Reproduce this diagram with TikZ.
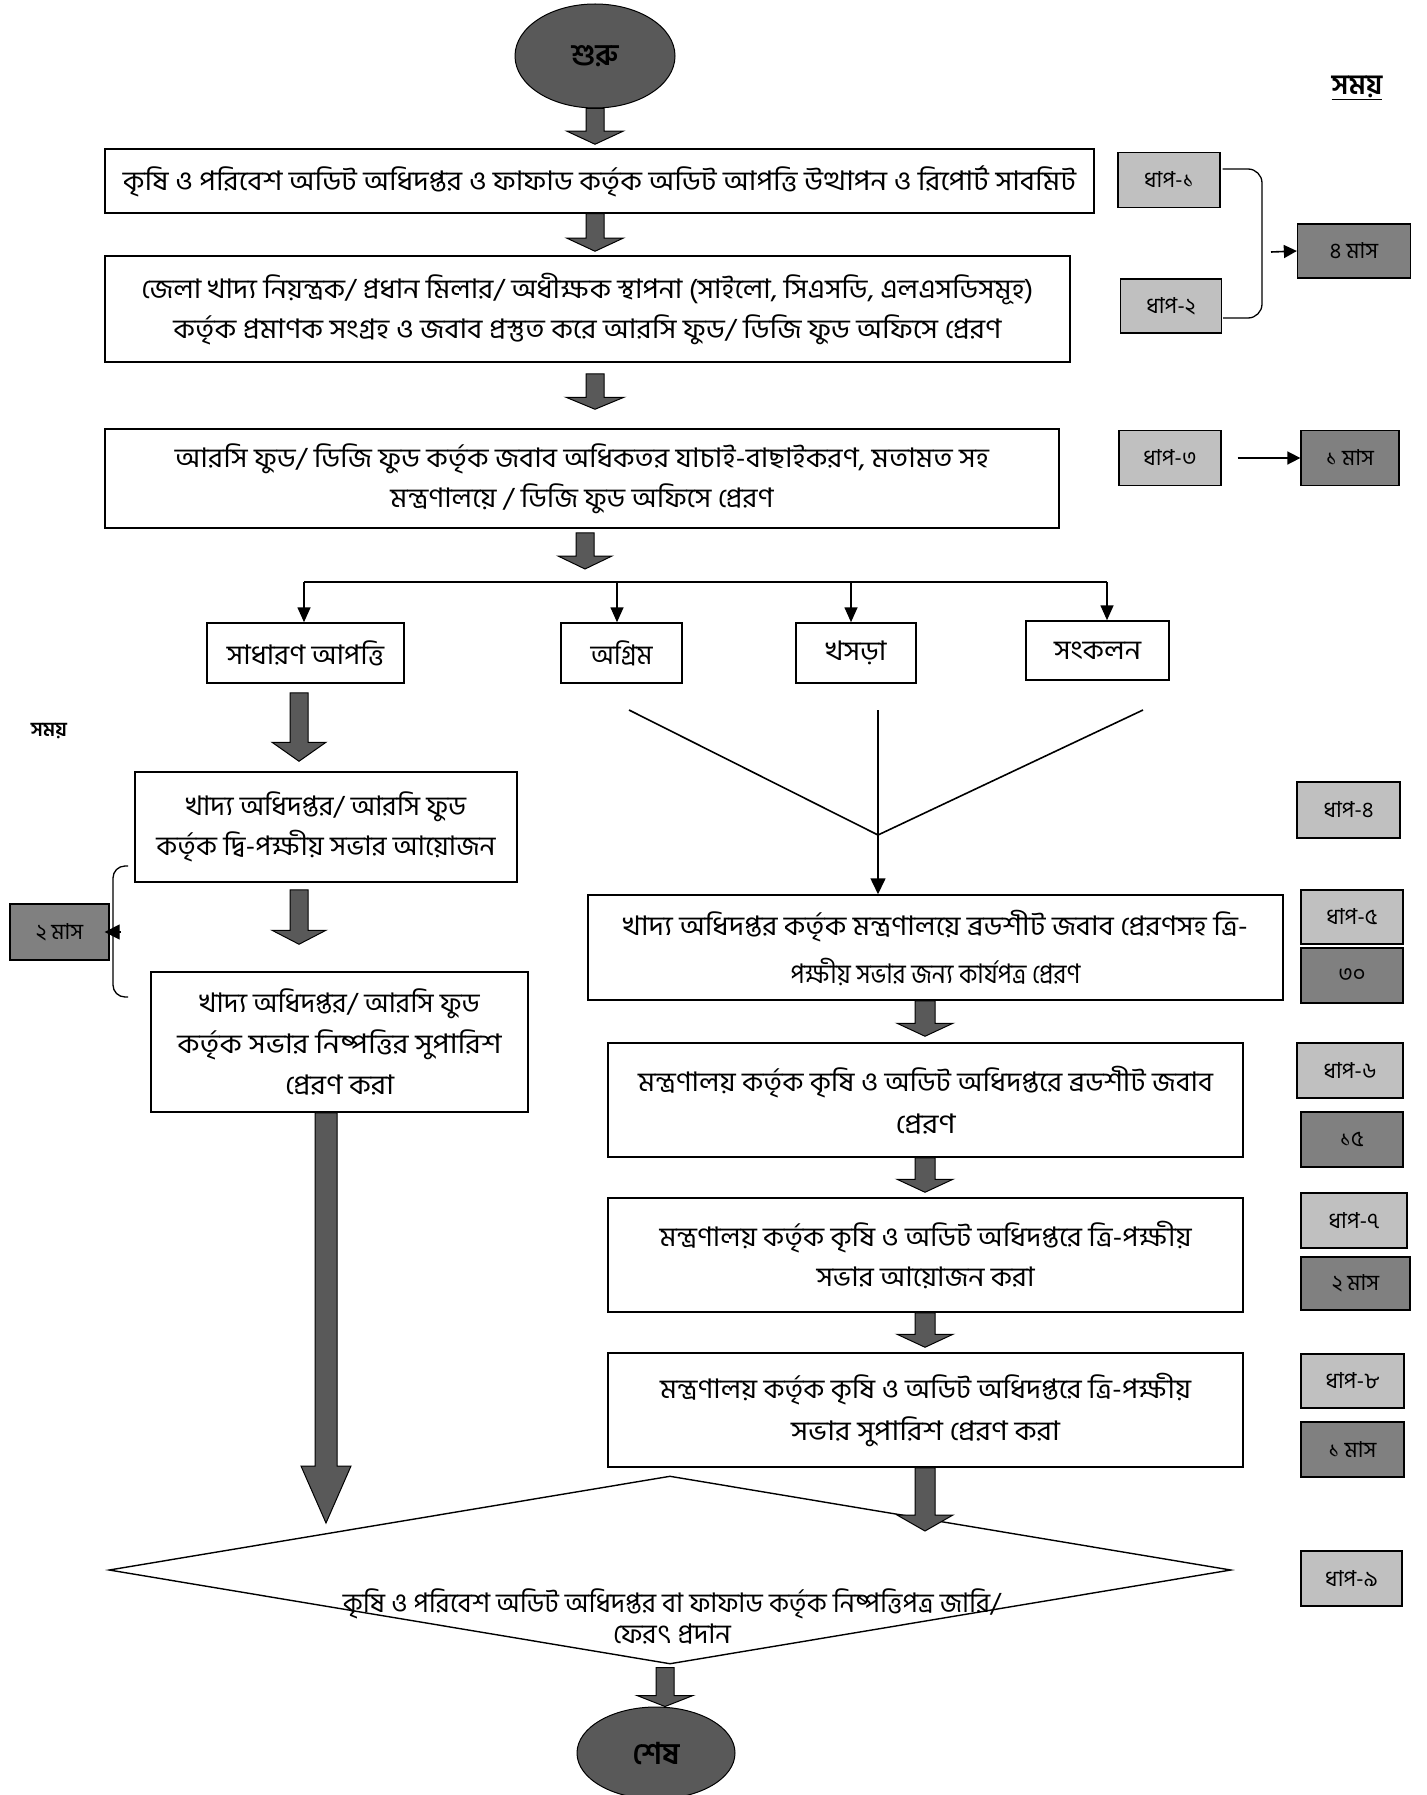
\documentclass[tikz,border=0pt]{standalone}
\usepackage{graphicx}
\usepackage{fontspec}
\setmainfont[Script=Bengali]{Hind Siliguri}
\usetikzlibrary{shapes.geometric,calc,arrows.meta}
\definecolor{dk}{HTML}{595959}
\definecolor{lg}{HTML}{C0C0C0}
\definecolor{mg}{HTML}{808080}
\newcommand\fitline[2]{\resizebox{#1pt}{\height}{#2}}
% block arrow: #1 from, #2 to, #3 x, #4 start gap, #5 end gap, #6 half shaft, #7 half head, #8 head length
\newcommand\barrow[8]{%
  \draw[barr] let \p1=(#1), \p2=(#2) in
    ({#3pt-#6pt},{\y1-#4pt}) -- ({#3pt+#6pt},{\y1-#4pt}) --
    ({#3pt+#6pt},{\y2+#5pt+#8pt}) -- ({#3pt+#7pt},{\y2+#5pt+#8pt}) --
    ({#3pt},{\y2+#5pt}) -- ({#3pt-#7pt},{\y2+#5pt+#8pt}) --
    ({#3pt-#6pt},{\y2+#5pt+#8pt}) -- cycle;}
\begin{document}
\begin{tikzpicture}[x=1pt,y=-1pt,
  tbox/.style={draw, line width=1.5pt, fill=white, inner sep=0pt, align=center, font=\fontsize{27}{40}\selectfont},
  lab/.style={draw, line width=1.3pt, inner sep=0pt, font=\fontsize{22}{24}\selectfont},
  lt/.style={lab, fill=lg},
  dkb/.style={lab, fill=mg},
  ell/.style={ellipse, draw, line width=1pt, fill=dk, inner sep=0pt, font=\fontsize{30}{32}\selectfont\bfseries},
  barr/.style={draw=black, line width=1pt, fill=dk, line join=miter},
  tl/.style={line width=1.6pt},
  tarr/.style={tl, -{Triangle[length=15pt,width=13pt]}}]
\useasboundingbox (0,0) rectangle (1426,1795);
\fill[white] (0,0) rectangle (1426,1795);

% ---- top flow
\node[ell, minimum width=160pt, minimum height=104pt] (start) at (595,56) {শুরু};
\node[font=\fontsize{28}{30}\selectfont\bfseries] (samay) at (1357,88) {\underline{সময়}};

\node[tbox, minimum width=989pt, minimum height=64pt] (b1) at (599.5,181)
  {\fitline{953}{কৃষি ও পরিবেশ অডিট অধিদপ্তর ও ফাফাড কর্তৃক অডিট আপত্তি উত্থাপন ও রিপোর্ট সাবমিট}};
\node[tbox, minimum width=965pt, minimum height=106pt] (b2) at (587.5,309)
  {\fitline{892}{জেলা খাদ্য নিয়ন্ত্রক/ প্রধান মিলার/ অধীক্ষক স্থাপনা (সাইলো, সিএসডি, এলএসডিসমূহ)}\\
   \fitline{828}{কর্তৃক প্রমাণক সংগ্রহ ও জবাব প্রস্তুত করে আরসি ফুড/ ডিজি ফুড অফিসে প্রেরণ}};
\node[tbox, minimum width=954pt, minimum height=99pt] (b3) at (582,478.5)
  {\fitline{814}{আরসি ফুড/ ডিজি ফুড কর্তৃক জবাব অধিকতর যাচাই-বাছাইকরণ, মতামত সহ}\\
   \fitline{383}{মন্ত্রণালয়ে / ডিজি ফুড অফিসে প্রেরণ}};

\node[lt, minimum width=102pt, minimum height=55pt] (d1) at (1169,180) {ধাপ-১};
\node[lt, minimum width=101pt, minimum height=54pt] (d2) at (1171,306) {ধাপ-২};
\node[dkb, minimum width=113pt, minimum height=54pt] (m4) at (1354,251) {৪ মাস};
\node[lt, minimum width=102pt, minimum height=55pt] (d3) at (1170,458) {ধাপ-৩};
\node[dkb, minimum width=98pt, minimum height=55pt] (m1a) at (1350,458) {১ মাস};

\draw[line width=1.3pt, rounded corners=14pt] ($(d1.east)+(2,-11)$) -- (1262,169) -- (1262,318) -- ($(d2.east)+(1,12)$);
\coordinate (bk) at (1271,252);
\draw[tl, -{Triangle[length=13pt,width=13pt]}] (bk) -- (m4.west);
\draw[tl, -{Triangle[length=13pt,width=13pt]}, shorten <=16pt] (d3) -- (m1a);

\barrow{start.south}{b1.north}{595}{0}{4}{9}{28}{13}
\barrow{b1.south}{b2.north}{595}{0}{4}{9}{28}{13}
\barrow{b2.south}{b3.north}{595}{11}{19}{9}{29}{12}

% ---- split bus
\coordinate (bus) at (585,582);
\coordinate (busL) at (304,582);
\coordinate (bus2) at (617,582);
\coordinate (bus3) at (851,582);
\coordinate (busR) at (1107,582);
\barrow{b3.south}{bus}{585}{4}{13}{9}{27}{13}

\node[tbox, minimum width=197pt, minimum height=60pt] (s1) at (305.5,653) {\fitline{157}{সাধারণ আপত্তি}};
\node[tbox, minimum width=121pt, minimum height=60pt] (s2) at (621.5,653) {\fitline{62}{অগ্রিম}};
\node[tbox, minimum width=120pt, minimum height=60pt] (s3) at (856,653) {\fitline{61}{খসড়া}};
\node[tbox, minimum width=143pt, minimum height=59pt] (s4) at (1097.5,650.5) {\fitline{87}{সংকলন}};

\draw[tl] (busL) -- (busR);
\draw[tarr] (busL) -- (busL |- s1.north);
\draw[tarr] (bus2) -- (bus2 |- s2.north);
\draw[tarr] (bus3) -- (bus3 |- s3.north);
\draw[tarr] (busR) -- (busR |- s4.north);

% ---- left column
\node[font=\fontsize{20}{22}\selectfont\bfseries] (samayL) at (49,731) {সময়};
\node[tbox, minimum width=382pt, minimum height=110pt] (L1) at (326,827)
  {\fitline{280}{খাদ্য অধিদপ্তর/ আরসি ফুড}\\
   \fitline{339}{কর্তৃক দ্বি-পক্ষীয় সভার আয়োজন}};
\node[tbox, minimum width=377pt, minimum height=140pt, font=\fontsize{27}{41}\selectfont] (L2) at (339.5,1042)
  {\fitline{280}{খাদ্য অধিদপ্তর/ আরসি ফুড}\\
   \fitline{324}{কর্তৃক সভার নিষ্পত্তির সুপারিশ}\\
   \fitline{109}{প্রেরণ করা}};
\node[dkb, minimum width=99pt, minimum height=56pt] (m2l) at (59.5,932) {২ মাস};

\barrow{s1.south}{L1.north}{299}{9}{10}{9}{27}{19}
\barrow{L1.south}{L2.north}{299}{7}{27}{9}{27}{14}

\coordinate (brt) at (128,866);
\coordinate (brb) at (128,997);
\coordinate (brm) at (121,932);
\draw[line width=1.3pt, rounded corners=12pt] (brt) -- (113,866) -- (113,997) -- (brb);
\draw[line width=1.3pt, -{Triangle[length=15pt,width=15pt]}, shorten >=-5pt] (brm) -- (m2l.east);

% ---- right column
\coordinate (c1) at (629,710);
\coordinate (c2) at (878,710);
\coordinate (c3) at (1143,710);
\coordinate (junc) at (878,835);

\node[tbox, minimum width=695pt, minimum height=105pt, font=\fontsize{27}{48}\selectfont] (R1) at (935.5,947.5)
  {\fitline{625}{খাদ্য অধিদপ্তর কর্তৃক মন্ত্রণালয়ে ব্রডশীট জবাব প্রেরণসহ ত্রি-}\\
   \fitline{290}{পক্ষীয় সভার জন্য কার্যপত্র প্রেরণ}};
\node[tbox, minimum width=635pt, minimum height=114pt, font=\fontsize{27}{42}\selectfont] (R2) at (925.5,1100)
  {\fitline{575}{মন্ত্রণালয় কর্তৃক কৃষি ও অডিট অধিদপ্তরে ব্রডশীট জবাব}\\
   \fitline{60}{প্রেরণ}};
\node[tbox, minimum width=635pt, minimum height=114pt] (R3) at (925.5,1255)
  {\fitline{532}{মন্ত্রণালয় কর্তৃক কৃষি ও অডিট অধিদপ্তরে ত্রি-পক্ষীয়}\\
   \fitline{218}{সভার আয়োজন করা}};
\node[tbox, minimum width=635pt, minimum height=114pt, font=\fontsize{27}{42}\selectfont] (R4) at (925.5,1410)
  {\fitline{531}{মন্ত্রণালয় কর্তৃক কৃষি ও অডিট অধিদপ্তরে ত্রি-পক্ষীয়}\\
   \fitline{269}{সভার সুপারিশ প্রেরণ করা}};

\draw[tl] (c1) -- (junc) -- (c3);
\draw[tl] (c2) -- (junc);
\draw[tl, -{Triangle[length=16pt,width=15pt]}] (junc) -- (junc |- R1.north);

\node[lt, minimum width=103pt, minimum height=56pt] (d4) at (1348.5,810) {ধাপ-৪};
\node[lt, minimum width=102pt, minimum height=54pt] (d5) at (1352,917) {ধাপ-৫};
\node[dkb, minimum width=102pt, minimum height=55pt] (t30) at (1352,975.5) {৩০};
\node[lt, minimum width=106pt, minimum height=55pt] (d6) at (1350,1070.5) {ধাপ-৬};
\node[dkb, minimum width=102pt, minimum height=55pt] (t15) at (1352,1139.5) {১৫};
\node[lt, minimum width=106pt, minimum height=55pt] (d7) at (1354,1220.5) {ধাপ-৭};
\node[dkb, minimum width=109pt, minimum height=53pt] (m2r) at (1355.5,1283.5) {২ মাস};
\node[lt, minimum width=103pt, minimum height=54pt] (d8) at (1352.5,1381) {ধাপ-৮};
\node[dkb, minimum width=103pt, minimum height=55pt] (m1b) at (1352.5,1449.5) {১ মাস};
\node[lt, minimum width=101pt, minimum height=55pt] (d9) at (1351.5,1578.5) {ধাপ-৯};

\barrow{R1.south}{R2.north}{925}{0}{6}{10}{28}{13}
\barrow{R2.south}{R3.north}{925}{0}{5}{10}{28}{13}
\barrow{R3.south}{R4.north}{925}{0}{5}{10}{28}{13}

% ---- decision and end
\node[diamond, draw, line width=1.4pt, fill=white, minimum width=1122pt, minimum height=188pt, inner sep=0pt] (dia) at (670,1570) {};
\node[align=center, font=\fontsize{27}{31}\selectfont] (diatext) at (672,1616)
  {\fitline{658}{কৃষি ও পরিবেশ অডিট অধিদপ্তর বা ফাফাড কর্তৃক নিষ্পত্তিপত্র জারি/}\\
   \fitline{118}{ফেরৎ প্রদান}};

\barrow{L2.south}{dia.west}{326}{0}{47}{11}{25}{57}
\barrow{R4.south}{dia.east}{925}{0}{39}{10}{28}{16}

\node[ell, minimum width=158pt, minimum height=92pt] (end) at (656,1753) {শেষ};
\barrow{dia.south}{end.north}{665}{3}{0}{9}{28}{11}
\end{tikzpicture}
\end{document}
